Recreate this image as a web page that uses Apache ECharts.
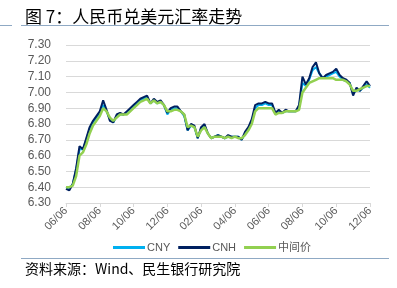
<!DOCTYPE html>
<html>
<head>
<meta charset="utf-8">
<script src="https://cdn.jsdelivr.net/npm/echarts@6/dist/echarts.min.js"></script>
<style>
html,body{margin:0;padding:0;background:#fff;}
#chart{width:397px;height:288px;}
</style>
</head>
<body>
<div id="chart"></div>
<script>
var dates = [
"2018/06/06","2018/06/12","2018/06/18","2018/06/24","2018/06/30","2018/07/06","2018/07/12","2018/07/18","2018/07/24","2018/07/30",
"2018/08/06","2018/08/12","2018/08/18","2018/08/24","2018/08/30","2018/09/06","2018/09/12","2018/09/18","2018/09/24","2018/09/30",
"2018/10/06","2018/10/12","2018/10/18","2018/10/24","2018/10/30","2018/11/06","2018/11/12","2018/11/18","2018/11/24","2018/11/30",
"2018/12/06","2018/12/12","2018/12/18","2018/12/24","2018/12/30","2019/01/06","2019/01/12","2019/01/18","2019/01/24","2019/01/30",
"2019/02/06","2019/02/12","2019/02/18","2019/02/24","2019/03/01","2019/03/06","2019/03/12","2019/03/18","2019/03/24","2019/03/30",
"2019/04/06","2019/04/12","2019/04/18","2019/04/24","2019/04/30","2019/05/06","2019/05/12","2019/05/18","2019/05/24","2019/05/30",
"2019/06/06","2019/06/12","2019/06/18","2019/06/24","2019/06/30","2019/07/06","2019/07/12","2019/07/18","2019/07/24","2019/07/30",
"2019/08/06","2019/08/12","2019/08/18","2019/08/24","2019/08/30","2019/09/06","2019/09/12","2019/09/18","2019/09/24","2019/09/30",
"2019/10/06","2019/10/12","2019/10/18","2019/10/24","2019/10/30","2019/11/06","2019/11/12","2019/11/18","2019/11/24","2019/11/30",
"2019/12/06"
];

var cny = [
6.40,6.39,6.42,6.51,6.64,6.64,6.70,6.77,6.81,6.84,
6.87,6.92,6.88,6.83,6.81,6.85,6.86,6.86,6.87,6.89,
6.91,6.93,6.95,6.96,6.97,6.93,6.95,6.93,6.94,6.92,
6.86,6.89,6.90,6.90,6.88,6.85,6.76,6.79,6.78,6.71,
6.77,6.79,6.74,6.71,6.72,6.73,6.72,6.71,6.72,6.72,
6.72,6.72,6.70,6.74,6.77,6.82,6.90,6.92,6.92,6.93,
6.92,6.92,6.87,6.88,6.87,6.88,6.88,6.88,6.88,6.91,
7.06,7.04,7.08,7.14,7.16,7.12,7.09,7.10,7.11,7.12,
7.13,7.10,7.08,7.07,7.06,6.99,7.02,7.01,7.03,7.05,
7.03
];

var cnh = [
6.39,6.38,6.42,6.52,6.66,6.64,6.71,6.78,6.82,6.85,
6.88,6.95,6.89,6.82,6.81,6.86,6.87,6.86,6.88,6.90,
6.92,6.94,6.96,6.97,6.98,6.93,6.96,6.94,6.95,6.92,
6.87,6.90,6.91,6.91,6.88,6.86,6.76,6.80,6.79,6.71,
6.78,6.80,6.74,6.71,6.72,6.73,6.72,6.71,6.73,6.72,
6.72,6.72,6.70,6.75,6.78,6.83,6.92,6.93,6.93,6.94,
6.93,6.93,6.87,6.89,6.87,6.89,6.88,6.88,6.88,6.92,
7.10,7.05,7.09,7.16,7.19,7.12,7.09,7.11,7.12,7.13,
7.15,7.11,7.09,7.08,7.06,6.98,7.03,7.01,7.04,7.07,
7.04
];

var fixing = [
6.40,6.40,6.41,6.47,6.60,6.62,6.67,6.74,6.79,6.82,
6.85,6.90,6.88,6.84,6.82,6.84,6.86,6.86,6.86,6.88,
6.90,6.92,6.94,6.95,6.96,6.93,6.95,6.93,6.94,6.92,
6.88,6.88,6.89,6.89,6.88,6.86,6.78,6.79,6.78,6.72,
6.76,6.78,6.74,6.71,6.72,6.72,6.72,6.71,6.72,6.71,
6.72,6.71,6.71,6.73,6.76,6.80,6.88,6.90,6.90,6.90,
6.90,6.90,6.86,6.87,6.87,6.88,6.88,6.88,6.88,6.89,
7.00,7.03,7.06,7.07,7.08,7.09,7.09,7.09,7.09,7.09,
7.08,7.08,7.08,7.07,7.05,7.01,7.01,7.02,7.03,7.04,
7.04
];

var seriesNames = ["CNY","CNH","中间价"];
var seriesColors = ["#00B0F0","#002060","#92D050"];
var titleText = "图 7：人民币兑美元汇率走势";
var sourceText = "资料来源：Wind、民生银行研究院";

var chart = echarts.init(document.getElementById('chart'), null, {renderer:'canvas'});
var font = "'Liberation Sans','Noto Sans CJK SC',sans-serif";
var option = {
  animation: false,
  backgroundColor: '#fff',
  textStyle: {fontFamily: font},
  title: {
    text: titleText,
    left: 20, top: 3,
    textStyle: {fontSize: 17, fontWeight: 'normal', color: '#000', fontFamily: "'Noto Sans CJK SC',sans-serif"}
  },
  graphic: [
    {type:'line', shape:{x1:0,y1:25.5,x2:12,y2:25.5}, style:{stroke:'#8FA9C4', lineWidth:1}},
    {type:'line', shape:{x1:21,y1:25.5,x2:389,y2:25.5}, style:{stroke:'#8FA9C4', lineWidth:1}},
    {type:'line', shape:{x1:21,y1:258.5,x2:389,y2:258.5}, style:{stroke:'#8FA9C4', lineWidth:1}},
    {type:'text', left:25, top:262, style:{text: sourceText, fill:'#000', fontSize:14, fontFamily:"'Noto Sans CJK SC',sans-serif"}}
  ],
  legend: {
    data: seriesNames,
    left: 108, top: 237,
    icon: 'rect',
    itemWidth: 32, itemHeight: 3,
    itemGap: 8,
    textStyle: {color: '#595959', fontSize: 11, padding:[0,0,0,-3]}
  },
  grid: {left: 66, right: 27, top: 45, bottom: 85, containLabel: false},
  xAxis: {
    type: 'category',
    data: dates,
    boundaryGap: false,
    axisLine: {show: true, lineStyle: {color: '#D9D9D9'}},
    axisTick: {show: true, interval: 9, length: 4, lineStyle: {color: '#D9D9D9'}},
    axisLabel: {
      interval: 9, rotate: 45, color: '#595959', fontSize: 11, margin: 6,
      formatter: function (v) { return v.slice(5); }
    },
    splitLine: {show: false}
  },
  yAxis: {
    type: 'value',
    min: 6.3, max: 7.3, interval: 0.1,
    axisLine: {show: false},
    axisTick: {show: false},
    axisLabel: {color: '#595959', fontSize: 12, margin: 15, formatter: function (v) { return v.toFixed(2); }},
    splitLine: {lineStyle: {color: '#D9D9D9', width: 1}}
  },
  series: [
    {name: seriesNames[0], type: 'line', data: cny, symbol: 'none', lineStyle: {width: 2, color: seriesColors[0]}, itemStyle:{color: seriesColors[0]}},
    {name: seriesNames[1], type: 'line', data: cnh, symbol: 'none', lineStyle: {width: 2, color: seriesColors[1]}, itemStyle:{color: seriesColors[1]}},
    {name: seriesNames[2], type: 'line', data: fixing, symbol: 'none', lineStyle: {width: 2.5, color: seriesColors[2]}, itemStyle:{color: seriesColors[2]}}
  ]
};
chart.setOption(option);
</script>
</body>
</html>
